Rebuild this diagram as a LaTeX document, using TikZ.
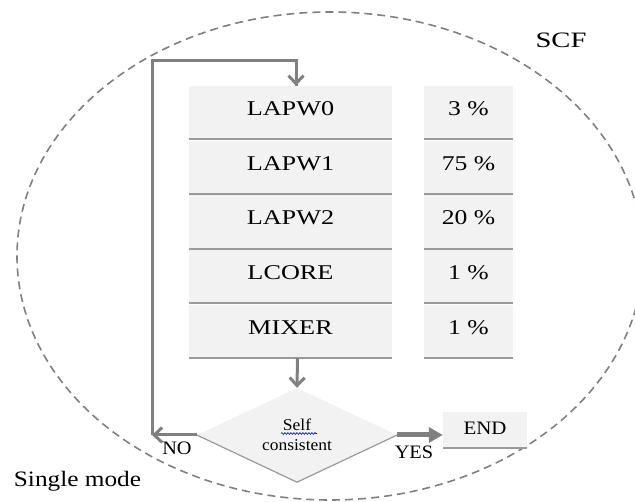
\documentclass[tikz,border=0pt]{standalone}
\usepackage{fontspec}
\setmainfont{Liberation Serif}
\usepackage{graphicx}
\usetikzlibrary{arrows.meta,shapes.geometric,decorations.pathmorphing}
\definecolor{cellgray}{HTML}{F2F2F2}
\definecolor{sepgray}{HTML}{9A9A9A}
\definecolor{arrgray}{HTML}{808080}
\definecolor{dashgray}{HTML}{808080}
\newcommand{\hs}[2]{\scalebox{#1}[1]{#2}}
\tikzset{
  cell/.style={fill=cellgray, inner sep=0pt, minimum height=53pt, text depth=8pt,
    font=\fontsize{21}{24}\selectfont},
  sepline/.style={draw=sepgray, line width=2pt},
  flow/.style={draw=arrgray, line width=3pt, -{Straight Barb[length=8pt,width=15pt]}},
  loopline/.style={draw=arrgray, line width=3pt},
  yesarrow/.style={draw=arrgray, line width=5pt, -{Triangle[length=14pt,width=15pt]}},
  lbl/.style={inner sep=0pt, font=\fontsize{19}{22}\selectfont},
}
\begin{document}
\begin{tikzpicture}[x=1pt,y=-1pt]
\useasboundingbox (0,0) rectangle (635,502);
\begin{scope}
\clip (0,0) rectangle (635,502);
\draw[dashgray, line width=1.6pt, dash pattern=on 8pt off 5pt] (330,256) ellipse [x radius=313, y radius=244];
\end{scope}

% cells
\foreach \i/\name/\pct in {1/LAPW0/3 \%,2/LAPW1/75 \%,3/LAPW2/20 \%,4/LCORE/1 \%,5/MIXER/1 \%}{
  \pgfmathsetmacro{\cy}{139+54.75*(\i-1)-26.5}
  \node[cell, minimum width=203pt] (l\i) at (290.5,\cy) {\hs{1.25}{\name}};
  \node[cell, minimum width=89pt] (p\i) at (468.5,\cy) {\hs{1.22}{\pct}};
  \draw[sepline] (l\i.south west) -- (l\i.south east);
  \draw[sepline] (p\i.south west) -- (p\i.south east);
}

% decision
\node[diamond, fill=cellgray, inner sep=0pt, aspect=2.1, minimum width=200pt, minimum height=94pt,
  align=center, font=\fontsize{16.5}{21}\selectfont] (d) at (297,435) {\hs{1.06}{Self}\\[-1pt]\hs{1.06}{consistent}};
\draw[sepgray, line width=1.2pt] (d.west) -- (d.south) -- (d.east);
\draw[blue!70!black, line width=0.6pt, decorate, decoration={snake, segment length=3pt, amplitude=0.9pt}]
  (281,433.5) -- (317,433.5);

% END box
\node[fill=cellgray, inner sep=0pt, minimum width=84pt, minimum height=36pt, text depth=3pt,
  font=\fontsize{19}{22}\selectfont] (e) at (485,430) {\hs{1.1}{END}};
\draw[sepline] (e.south west) -- (e.south east);

% connectors
\coordinate (nocorner) at (152,435);
\coordinate (topleft) at (152,61);
\coordinate (topright) at (296,61);
\draw[flow] ([xshift=7pt]l5.south) -- (d.north);
\draw[flow] (d.west) -- (nocorner);
\draw[loopline, line join=miter] (nocorner) -- (topleft) -- (topright) -- ([xshift=5.5pt]l1.north) ;
\draw[flow] (topright) -- ([xshift=5.5pt]l1.north);
\draw[yesarrow] (d.east) -- (d.east -| e.west);

% labels
\node[lbl] (no) at (177,448) {\hs{1.07}{NO}};
\node[lbl] (yes) at (414,452) {\hs{1.07}{YES}};
\node[inner sep=0pt, font=\fontsize{22}{26}\selectfont] (single) at (77.5,481) {\hs{1.15}{Single mode}};
\node[inner sep=0pt, font=\fontsize{22}{26}\selectfont] (scf) at (561,40) {\hs{1.3}{SCF}};
\end{tikzpicture}
\end{document}
